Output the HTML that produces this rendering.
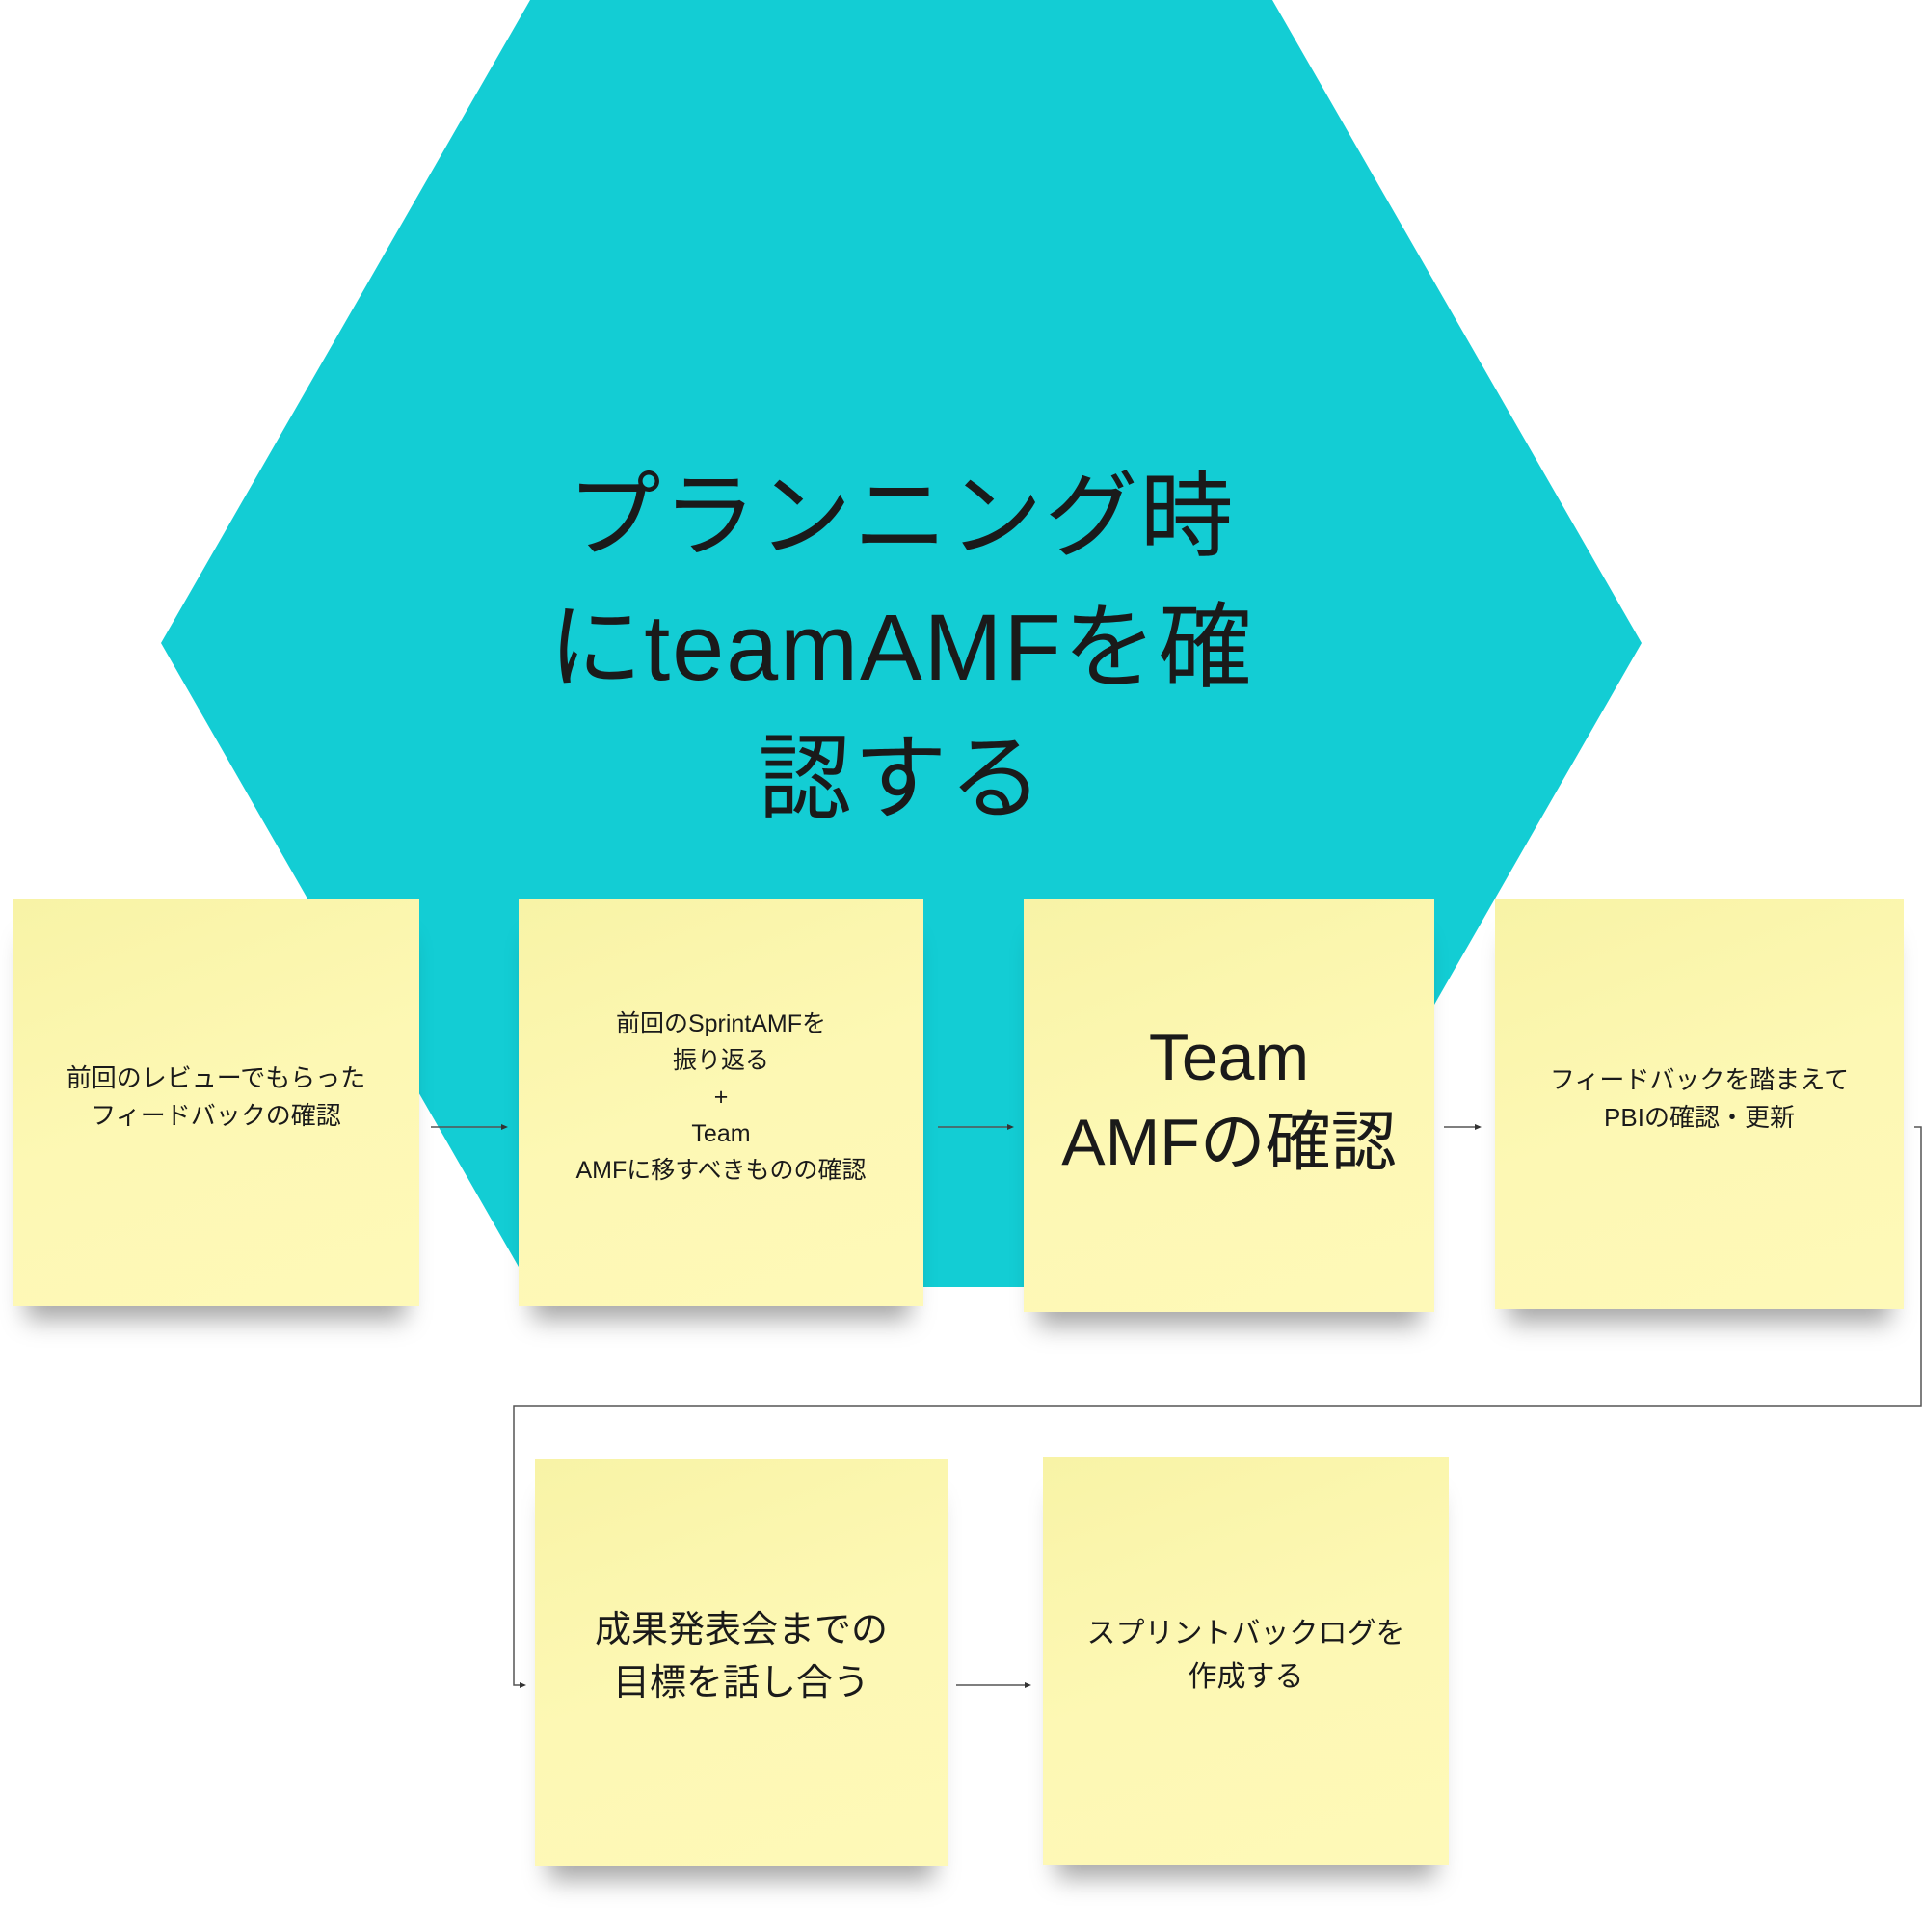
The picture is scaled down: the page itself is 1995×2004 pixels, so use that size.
<!DOCTYPE html>
<html><head><meta charset="utf-8"><style>
body{margin:0;width:1995px;height:2004px;background:#fff;position:relative;overflow:hidden;font-family:"Liberation Sans","Noto Sans CJK JP",sans-serif;color:#1a1a1a}
.n{position:absolute;background:linear-gradient(160deg,#f8f3a6 0%,#fdf8b4 50%,#fef9b8 100%);display:flex;align-items:center;justify-content:center;text-align:center;box-shadow:0 28px 24px -14px rgba(0,0,0,0.35)}
.n>div{position:relative;top:-6px}
.t{position:absolute;text-align:center;line-height:1.5}
</style></head><body>
<svg width="1995" height="2004" style="position:absolute;left:0;top:0">
<polygon points="550,0 1320,0 1703,667 1320,1335 550,1335 167,667" fill="#13cdd4"/>
</svg>
<div class="t" style="left:435px;top:468px;width:1000px;font-size:97px;letter-spacing:2px;line-height:136px">プランニング時<br>にteamAMFを確<br>認する</div>
<div class="n" style="left:13px;top:933px;width:422px;height:422px"><div style="font-size:26px;line-height:39px">前回のレビューでもらった<br>フィードバックの確認</div></div>
<div class="n" style="left:538px;top:933px;width:420px;height:422px"><div style="font-size:25px;line-height:38px">前回のSprintAMFを<br>振り返る<br>+<br>Team<br>AMFに移すべきものの確認</div></div>
<div class="n" style="left:1062px;top:933px;width:426px;height:428px"><div style="font-size:68px;line-height:88px">Team<br>AMFの確認</div></div>
<div class="n" style="left:1551px;top:933px;width:424px;height:425px"><div style="font-size:26px;line-height:39px">フィードバックを踏まえて<br>PBIの確認・更新</div></div>
<div class="n" style="left:555px;top:1513px;width:428px;height:423px"><div style="font-size:38px;line-height:55px">成果発表会までの<br>目標を話し合う</div></div>
<div class="n" style="left:1082px;top:1511px;width:421px;height:423px"><div style="font-size:30px;line-height:45px">スプリントバックログを<br>作成する</div></div>
<svg width="1995" height="2004" style="position:absolute;left:0;top:0">
<g stroke="#555" stroke-width="1.5" fill="none">
<line x1="447" y1="1169" x2="525" y2="1169"/>
<line x1="973" y1="1169" x2="1050" y2="1169"/>
<line x1="1498" y1="1169" x2="1535" y2="1169"/>
<polyline points="1986,1169 1993,1169 1993,1458 533,1458 533,1748 544,1748"/>
<line x1="992" y1="1748" x2="1068" y2="1748"/>
</g>
<g fill="#333">
<polygon points="527,1169 520,1166 520,1172"/>
<polygon points="1052,1169 1045,1166 1045,1172"/>
<polygon points="1537,1169 1530,1166 1530,1172"/>
<polygon points="546,1748 539,1745 539,1751"/>
<polygon points="1070,1748 1063,1745 1063,1751"/>
</g>
</svg>
</body></html>
